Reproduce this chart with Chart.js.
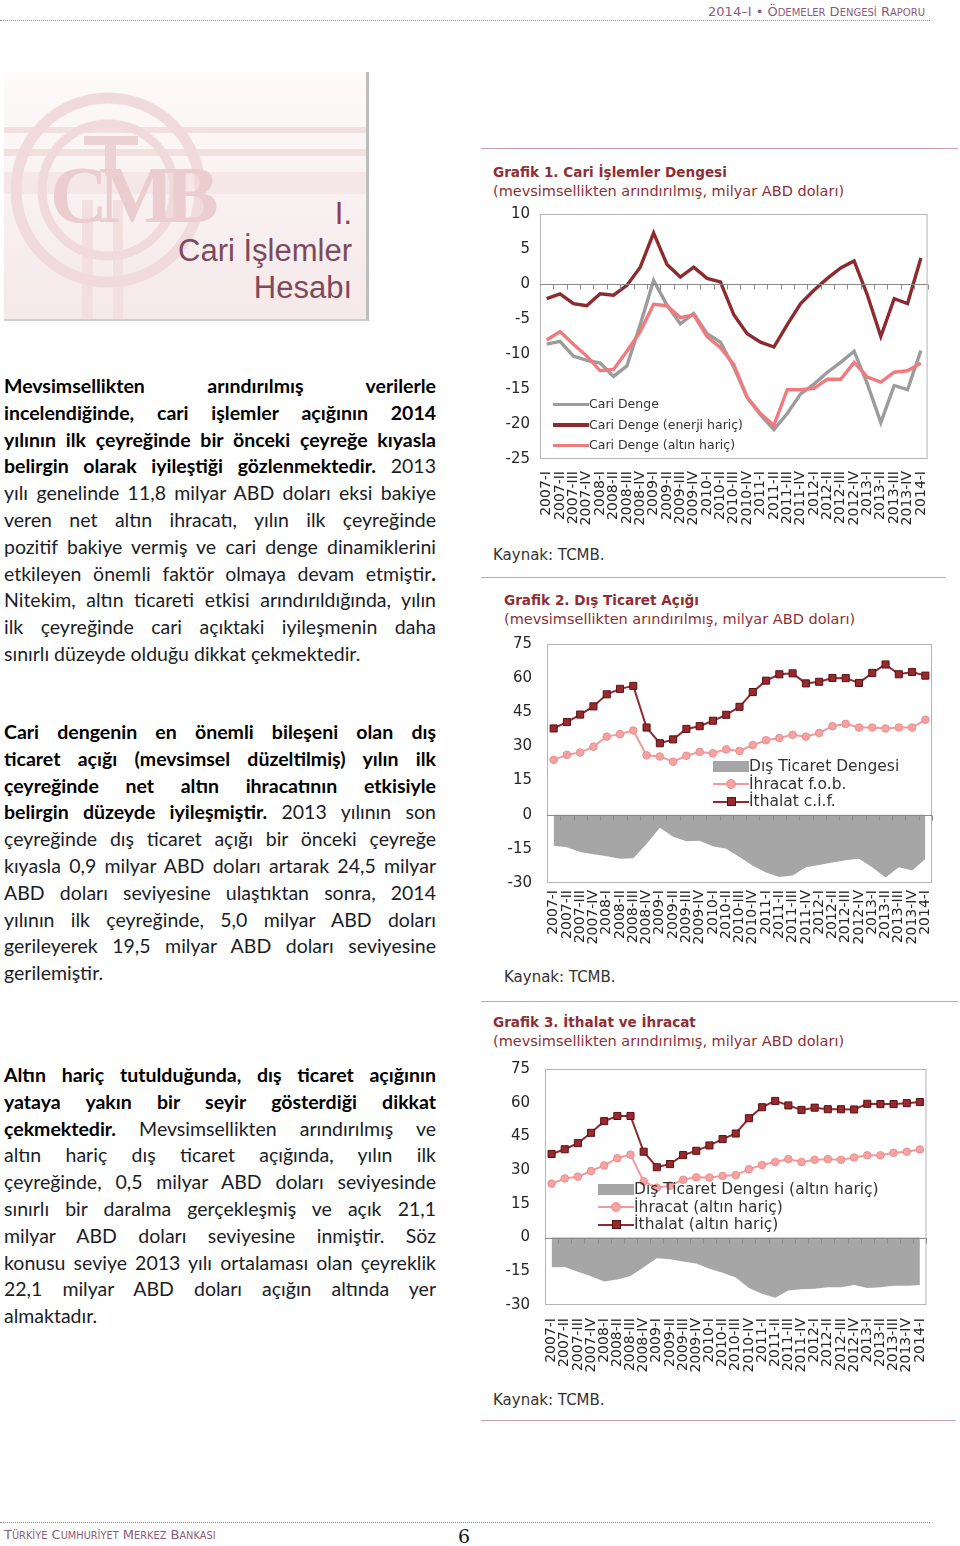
<!DOCTYPE html>
<html lang="tr">
<meta charset="utf-8">
<title>Ödemeler Dengesi Raporu – Cari İşlemler Hesabı</title>
<style>
  body { margin: 0; background: #fff }
  #page { position: relative; width: 960px; height: 1546px; overflow: hidden; font-family: "DejaVu Sans", sans-serif }
  .abs { position: absolute; white-space: nowrap }
  .sc { color: #8c5a7c; font-size: 13px; line-height: 16px }
  .sc small { font-size: 10px }
  .dots { position: absolute; height: 0; border-top: 1px dotted #8a8a8a }
  .txt { position: absolute; left: 4px; width: 432px; font-family: Lato, sans-serif; font-size: 19.5px; line-height: 26.8px; color: #1a1d26 }
  .txt div { text-align: justify; text-align-last: justify }
  .txt div.last { text-align-last: left }
  .txt b { color: #000 }
  .ttl { position: absolute; color: #8e2f35; font-weight: bold; font-size: 13.6px; line-height: 18px; white-space: nowrap }
  .sub { position: absolute; color: #8e2f35; font-size: 14.5px; line-height: 18px; white-space: nowrap }
  .src { position: absolute; color: #333; font-size: 15px; line-height: 18px }
  .rule { position: absolute; height: 0; border-top: 1.5px solid #c9a1ab }
  canvas { position: absolute }
  .leg { position: absolute; color: #333; white-space: nowrap }
  .leg .mk { display: inline-block; position: relative; vertical-align: middle }
  .leg .mk i { position: absolute; left: 50%; top: 50% }
</style>
<div id="page">
  <div class="abs sc" style="right:35px;top:4px">2014–I • Ö<small>DEMELER</small> D<small>ENGESİ</small> R<small>APORU</small></div>
  <div class="dots" style="left:0;width:930px;top:20px"></div>

  <div class="abs" style="left:4px;top:72px;width:362px;height:247px;background:linear-gradient(#fdfafa,#f5e8e9);border-right:3px solid #bdbdbd;border-bottom:2px solid #cfcfcf">
    <svg width="362" height="247" style="position:absolute;left:0;top:0">
      <g fill="#f2e0e1">
        <rect x="0" y="55" width="362" height="6"/>
        <rect x="0" y="77" width="362" height="7"/>
        <rect x="0" y="100" width="362" height="22" opacity=".6"/>
        <rect x="78" y="128" width="11" height="119"/>
        <rect x="109" y="128" width="10" height="119"/>
      </g>
      <g fill="none" stroke="#f1dadb">
        <circle cx="104" cy="118" r="92" stroke-width="11"/>
        <circle cx="104" cy="118" r="66" stroke-width="9"/>
      </g>
      <g fill="#edd2d4">
        <rect x="80" y="64" width="54" height="9"/>
        <rect x="101" y="64" width="11" height="40"/>
      </g>
      <text x="46" y="150" font-family="Liberation Serif" font-weight="bold" font-size="80" fill="#ebcdd0" letter-spacing="-9">CMB</text>
    </svg>
    <div class="abs" style="right:14px;top:123px;font-family:'Liberation Sans';font-size:31px;line-height:37px;text-align:right;color:#7b4a5c">
      <div style="color:#8f3d58">I.</div>
      <div>Cari İşlemler</div>
      <div>Hesabı</div>
    </div>
  </div>

  <div class="txt" style="top:373px">
    <div><b>Mevsimsellikten arındırılmış verilerle</b></div>
    <div><b>incelendiğinde, cari işlemler açığının 2014</b></div>
    <div><b>yılının ilk çeyreğinde bir önceki çeyreğe kıyasla</b></div>
    <div><b>belirgin olarak iyileştiği gözlenmektedir.</b> 2013</div>
    <div>yılı genelinde 11,8 milyar ABD doları eksi bakiye</div>
    <div>veren net altın ihracatı, yılın ilk çeyreğinde</div>
    <div>pozitif bakiye vermiş ve cari denge dinamiklerini</div>
    <div>etkileyen önemli faktör olmaya devam etmiştir<b>.</b></div>
    <div>Nitekim, altın ticareti etkisi arındırıldığında, yılın</div>
    <div>ilk çeyreğinde cari açıktaki iyileşmenin daha</div>
    <div class="last">sınırlı düzeyde olduğu dikkat çekmektedir.</div>
  </div>
  <div class="txt" style="top:719px">
    <div><b>Cari dengenin en önemli bileşeni olan dış</b></div>
    <div><b>ticaret açığı (mevsimsel düzeltilmiş) yılın ilk</b></div>
    <div><b>çeyreğinde net altın ihracatının etkisiyle</b></div>
    <div><b>belirgin düzeyde iyileşmiştir.</b> 2013 yılının son</div>
    <div>çeyreğinde dış ticaret açığı bir önceki çeyreğe</div>
    <div>kıyasla 0,9 milyar ABD doları artarak 24,5 milyar</div>
    <div>ABD doları seviyesine ulaştıktan sonra, 2014</div>
    <div>yılının ilk çeyreğinde, 5,0 milyar ABD doları</div>
    <div>gerileyerek 19,5 milyar ABD doları seviyesine</div>
    <div class="last">gerilemiştir.</div>
  </div>
  <div class="txt" style="top:1062px">
    <div><b>Altın hariç tutulduğunda, dış ticaret açığının</b></div>
    <div><b>yataya yakın bir seyir gösterdiği dikkat</b></div>
    <div><b>çekmektedir.</b> Mevsimsellikten arındırılmış ve</div>
    <div>altın hariç dış ticaret açığında, yılın ilk</div>
    <div>çeyreğinde, 0,5 milyar ABD doları seviyesinde</div>
    <div>sınırlı bir daralma gerçekleşmiş ve açık 21,1</div>
    <div>milyar ABD doları seviyesine inmiştir. Söz</div>
    <div>konusu seviye 2013 yılı ortalaması olan çeyreklik</div>
    <div>22,1 milyar ABD doları açığın altında yer</div>
    <div class="last">almaktadır.</div>
  </div>

  <div class="rule" style="left:481px;width:477px;top:148px"></div>
  <div class="ttl" style="left:493px;top:163px">Grafik 1. Cari İşlemler Dengesi</div>
  <div class="sub" style="left:493px;top:182px">(mevsimsellikten arındırılmış, milyar ABD doları)</div>
  <canvas id="c1" width="470" height="340" style="left:480px;top:195px"></canvas>
  <div class="leg" id="l1" style="left:553px;top:394px;font-size:12.5px;line-height:20.5px"></div>
  <div class="src" style="left:493px;top:546px">Kaynak: TCMB.</div>

  <div class="rule" style="left:481px;width:465px;top:577px"></div>
  <div class="ttl" style="left:504px;top:591px">Grafik 2. Dış Ticaret Açığı</div>
  <div class="sub" style="left:504px;top:610px">(mevsimsellikten arındırılmış, milyar ABD doları)</div>
  <canvas id="c2" width="470" height="335" style="left:480px;top:620px"></canvas>
  <div class="leg" id="l2" style="left:713px;top:758px;font-size:15.5px;line-height:17.5px"></div>
  <div class="src" style="left:504px;top:968px">Kaynak: TCMB.</div>

  <div class="rule" style="left:481px;width:477px;top:1001px"></div>
  <div class="ttl" style="left:493px;top:1013px">Grafik 3. İthalat ve İhracat</div>
  <div class="sub" style="left:493px;top:1032px">(mevsimsellikten arındırılmış, milyar ABD doları)</div>
  <canvas id="c3" width="470" height="332" style="left:480px;top:1045px"></canvas>
  <div class="leg" id="l3" style="left:598px;top:1181px;font-size:15.5px;line-height:17.5px"></div>
  <div class="src" style="left:493px;top:1391px">Kaynak: TCMB.</div>
  <div class="rule" style="left:481px;width:475px;top:1420px"></div>

  <div class="dots" style="left:0;width:930px;top:1522px"></div>
  <div class="abs sc" style="left:4px;top:1527px;font-size:13px">T<small style="font-size:9.8px">ÜRKİYE</small> C<small style="font-size:9.8px">UMHURİYET</small> M<small style="font-size:9.8px">ERKEZ</small> B<small style="font-size:9.8px">ANKASI</small></div>
  <div class="abs" style="left:458px;top:1524px;font-family:'DejaVu Serif';font-size:19px;line-height:24px;color:#111">6</div>
</div>
<script src="https://cdn.jsdelivr.net/npm/chart.js@4"></script>
<script>
  const quarters = ["2007-I", "2007-II", "2007-III", "2007-IV", "2008-I", "2008-II", "2008-III", "2008-IV",
    "2009-I", "2009-II", "2009-III", "2009-IV", "2010-I", "2010-II", "2010-III", "2010-IV",
    "2011-I", "2011-II", "2011-III", "2011-IV", "2012-I", "2012-II", "2012-III", "2012-IV",
    "2013-I", "2013-II", "2013-III", "2013-IV", "2014-I"]

  // Grafik 1
  const leg1 = ["Cari Denge", "Cari Denge (enerji hariç)", "Cari Denge (altın hariç)"]
  const cariDenge = [-8.6, -8.2, -10.3, -10.9, -11.3, -13.2, -11.7, -5.8, 0.5, -3.0, -5.7, -4.2, -7.1, -8.3,
    -11.9, -16.2, -18.7, -20.8, -18.5, -15.7, -14.3, -12.6, -11.2, -9.6, -14.3, -19.8, -14.5, -15.1, -9.5]
  const cariEnerjiHaric = [-2.1, -1.4, -2.8, -3.1, -1.4, -1.6, -0.2, 2.4, 7.3, 2.8, 1.0, 2.4, 0.8, 0.3,
    -4.4, -7.1, -8.3, -9.0, -5.8, -2.8, -0.9, 0.8, 2.3, 3.3, -1.6, -7.5, -2.1, -2.8, 3.7]
  const cariAltinHaric = [-8.0, -6.8, -8.6, -10.3, -12.4, -12.2, -9.6, -6.8, -2.9, -3.1, -4.8, -4.4, -7.5, -9.1,
    -11.5, -16.2, -18.5, -20.2, -15.1, -15.1, -14.9, -13.6, -13.6, -11.2, -13.3, -14.0, -12.6, -12.4, -11.3]

  // Grafik 2
  const leg2 = ["Dış Ticaret Dengesi", "İhracat f.o.b.", "İthalat c.i.f."]
  const disTicaret = [-13.6, -14.3, -16.4, -17.4, -18.3, -19.4, -19.1, -12.9, -5.7, -9.7, -11.7, -11.4, -13.9, -15.0,
    -18.6, -22.4, -25.4, -27.4, -26.7, -23.1, -22.1, -21.0, -20.0, -19.4, -23.1, -27.6, -23.1, -24.5, -19.5]
  const ihracat = [24.1, 26.3, 27.3, 29.9, 34.3, 35.4, 37.0, 26.1, 25.6, 23.3, 25.9, 27.6, 27.0, 28.7,
    28.0, 30.6, 32.7, 33.7, 35.1, 34.3, 35.9, 38.9, 39.9, 38.3, 38.3, 37.9, 38.3, 38.3, 41.7]
  const ithalat = [37.9, 40.7, 44.0, 47.6, 52.9, 55.3, 56.6, 38.3, 31.4, 33.1, 37.7, 38.9, 41.3, 43.9,
    47.4, 53.9, 58.9, 61.7, 62.1, 57.7, 58.4, 60.1, 60.0, 57.9, 62.3, 66.0, 61.7, 62.7, 61.1]

  // Grafik 3
  const leg3 = ["Dış Ticaret Dengesi (altın hariç)", "İhracat (altın hariç)", "İthalat (altın hariç)"]
  const disTicaretAH = [-13.2, -13.1, -15.2, -17.2, -19.5, -18.7, -17.1, -13.2, -9.2, -9.6, -10.6, -11.5, -13.9, -15.6,
    -17.8, -22.4, -25.0, -26.8, -23.5, -23.0, -22.8, -22.1, -22.1, -21.1, -22.4, -22.1, -21.4, -21.4, -21.1]
  const ihracatAH = [24.0, 26.3, 27.1, 29.6, 32.1, 35.3, 36.9, 25.0, 22.2, 23.1, 25.7, 26.8, 26.7, 27.4,
    27.8, 30.4, 32.3, 33.6, 34.9, 33.6, 34.6, 34.9, 34.6, 35.6, 36.6, 36.6, 37.7, 38.2, 39.2]
  const ithalatAH = [37.2, 39.3, 42.0, 46.6, 51.8, 54.1, 54.1, 38.2, 31.3, 32.7, 36.7, 38.6, 41.0, 43.8,
    46.3, 53.1, 58.0, 60.8, 58.8, 56.8, 57.8, 57.1, 57.1, 57.0, 59.5, 59.4, 59.4, 59.8, 60.3]

  const GRAY = "#9c9c9c", DARK = "#8e2b2f", PINK = "#f07b7e", PINK2 = "#f29a9a", AREA = "#a6a6a6"

  // even out justified lines that are a touch too wide for the column
  document.querySelectorAll(".txt div").forEach(d => {
    let ls = 0
    while (d.offsetHeight > 30 && ls > -2) {
      ls -= 0.1
      d.style.letterSpacing = ls + "px"
    }
  })

  Chart.defaults.font.family = "DejaVu Sans"
  Chart.defaults.color = "#262626"

  // plot frame, zero line and the little category ticks hanging from it
  const frame = {
    id: "frame",
    afterDatasetsDraw(chart) {
      const { ctx, chartArea: a, scales: { x, y } } = chart
      ctx.save()
      ctx.lineWidth = 1
      ctx.strokeStyle = "#b4b4b4"
      ctx.strokeRect(a.left + 0.5, a.top + 0.5, a.width - 1, a.height - 1)
      ctx.strokeStyle = "#8a8a8a"
      const y0 = Math.round(y.getPixelForValue(0)) + 0.5
      ctx.beginPath()
      ctx.moveTo(a.left, y0)
      ctx.lineTo(a.right, y0)
      for (let i = 1; i <= quarters.length; i++) {
        const bx = i < quarters.length
          ? (x.getPixelForValue(i - 1) + x.getPixelForValue(i)) / 2
          : a.right
        ctx.moveTo(Math.round(bx) + 0.5, y0)
        ctx.lineTo(Math.round(bx) + 0.5, y0 + 5)
      }
      ctx.stroke()
      ctx.restore()
    },
  }

  function options(min, max, step, yw, pad, xh, xpad, ypad) {
    return {
      responsive: false,
      animation: false,
      layout: { padding: pad },
      plugins: { legend: { display: false }, tooltip: { enabled: false } },
      elements: { line: { tension: 0 } },
      scales: {
        x: {
          offset: true,
          grid: { display: false, drawTicks: false },
          border: { display: false },
          ticks: { autoSkip: false, minRotation: 90, maxRotation: 90, padding: xpad, font: { size: 14 } },
          afterFit: s => { s.height = xh },
        },
        y: {
          min, max,
          grid: { display: false, drawTicks: false },
          border: { display: false },
          ticks: { stepSize: step, padding: ypad, font: { size: 15 } },
          afterFit: s => { s.width = yw },
        },
      },
    }
  }

  function line(label, data, color, width) {
    return { label, data, borderColor: color, backgroundColor: color, borderWidth: width, pointRadius: 0, fill: false }
  }

  function marked(label, data, color, fillColor, edge, style, radius) {
    return {
      label, data, borderColor: color, borderWidth: 2, fill: false,
      pointStyle: style, pointRadius: radius, pointBackgroundColor: fillColor,
      pointBorderColor: edge, pointBorderWidth: 1,
    }
  }

  function area(label, data) {
    return { label, data, borderWidth: 0, pointRadius: 0, fill: "origin", backgroundColor: AREA, borderColor: AREA }
  }

  const c1 = new Chart(document.getElementById("c1"), {
    type: "line",
    data: {
      labels: quarters,
      datasets: [
        line(leg1[1], cariEnerjiHaric, DARK, 3.4),
        line(leg1[2], cariAltinHaric, PINK, 3.4),
        line(leg1[0], cariDenge, GRAY, 3.4),
      ],
    },
    options: options(-25, 10, 5, 60, { top: 16, right: 17 }, 76, 12, 10),
    plugins: [frame],
  })

  const c2 = new Chart(document.getElementById("c2"), {
    type: "line",
    data: {
      labels: quarters,
      datasets: [
        marked(leg2[2], ithalat, DARK, "#962a2e", "#5a1013", "rect", 5),
        marked(leg2[1], ihracat, PINK2, "#f4a3a3", "#f08c8c", "circle", 3.8),
        area(leg2[0], disTicaret),
      ],
    },
    options: options(-30, 75, 15, 67, { top: 18, right: 18 }, 72, 7, 15),
    plugins: [frame],
  })

  const c3 = new Chart(document.getElementById("c3"), {
    type: "line",
    data: {
      labels: quarters,
      datasets: [
        marked(leg3[2], ithalatAH, DARK, "#962a2e", "#5a1013", "rect", 5),
        marked(leg3[1], ihracatAH, PINK2, "#f4a3a3", "#f08c8c", "circle", 3.8),
        area(leg3[0], disTicaretAH),
      ],
    },
    options: options(-30, 75, 15, 65, { top: 16, right: 18 }, 72, 13, 15),
    plugins: [frame],
  })

  // legends sit inside the plot, so they are laid out by hand from the datasets
  function legend(id, chart, order, w) {
    const box = document.getElementById(id)
    for (const i of order) {
      const ds = chart.data.datasets[i]
      const row = document.createElement("div")
      let mk
      if (ds.fill) {
        mk = `<span class="mk" style="width:${w}px;height:11px;background:${ds.backgroundColor}"></span>`
      } else if (ds.pointRadius) {
        const s = ds.pointStyle == "rect" ? 7 : 8
        const r = ds.pointStyle == "rect" ? "0" : "50%"
        mk = `<span class="mk" style="width:${w}px;height:2px;background:${ds.borderColor}">` +
          `<i style="width:${s}px;height:${s}px;margin:-${s / 2 + 1}px 0 0 -${s / 2 + 1}px;border-radius:${r};` +
          `background:${ds.pointBackgroundColor};border:1px solid ${ds.pointBorderColor}"></i></span>`
      } else {
        mk = `<span class="mk" style="width:${w}px;height:3.5px;background:${ds.borderColor}"></span>`
      }
      row.innerHTML = mk + ds.label
      box.appendChild(row)
    }
  }
  legend("l1", c1, [2, 0, 1], 36)
  legend("l2", c2, [2, 1, 0], 36)
  legend("l3", c3, [2, 1, 0], 36)
</script>
</html>
